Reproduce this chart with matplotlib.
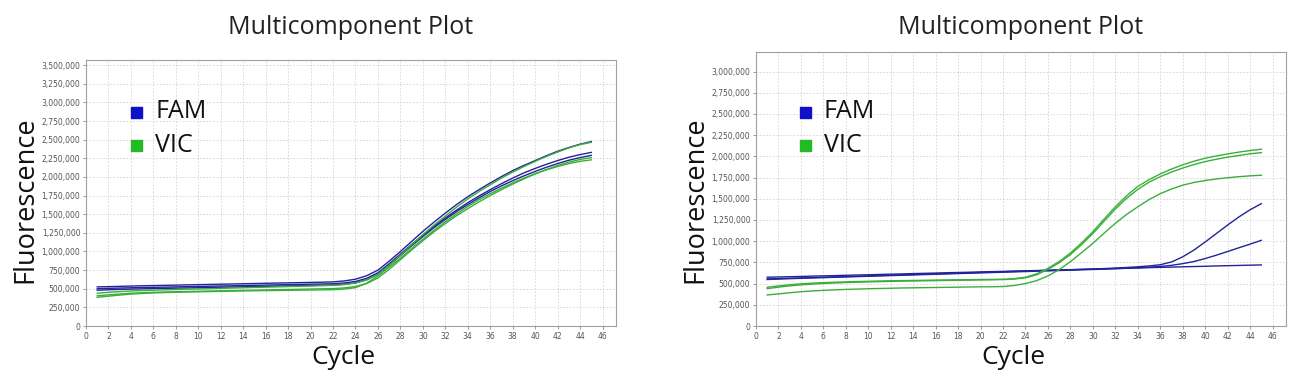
import numpy as np
import matplotlib.pyplot as plt
from matplotlib.ticker import FuncFormatter, MultipleLocator

# cycles 1..45
cycles = list(range(1, 46))

# left panel (values in thousands)
fam_left = [
    [525,528,532,536,540,543,546,549,552,555,558,561,564,567,570,573,576,579,582,585,588,592,605,628,675,750,870,1000,1135,1270,1395,1515,1630,1735,1830,1920,2005,2085,2155,2220,2285,2345,2395,2440,2475],
    [500,505,509,513,516,519,522,525,528,531,534,537,540,543,546,549,552,555,558,561,564,567,578,598,640,715,835,965,1095,1220,1340,1450,1555,1655,1745,1830,1910,1985,2055,2115,2170,2220,2265,2300,2330],
    [480,486,491,495,499,502,505,508,511,514,517,520,523,526,529,532,535,538,541,544,547,550,560,580,620,695,815,945,1075,1200,1320,1430,1535,1630,1720,1805,1880,1950,2015,2075,2130,2180,2225,2260,2290],
]
vic_left = [
    [440,452,462,470,476,481,485,489,493,497,501,505,509,513,517,521,525,529,533,537,541,545,556,576,618,695,815,950,1090,1225,1355,1475,1595,1705,1805,1895,1985,2065,2140,2210,2275,2335,2390,2435,2465],
    [405,418,430,440,447,452,456,460,463,466,469,472,475,478,481,484,487,490,493,496,499,502,511,530,570,645,760,890,1020,1145,1265,1375,1480,1575,1665,1750,1830,1905,1975,2040,2100,2155,2200,2235,2260],
    [385,400,415,428,437,444,449,453,456,459,462,465,468,471,473,475,477,479,481,483,485,487,496,515,575,672,790,910,1040,1165,1285,1400,1505,1605,1695,1775,1850,1920,1985,2045,2095,2140,2180,2210,2230],
]

# right panel (values in thousands)
fam_right = [
    [575,578,581,584,588,591,594,598,601,604,608,611,614,618,621,624,628,631,634,638,641,644,648,651,654,658,661,664,668,671,674,678,681,684,688,691,694,698,701,704,708,711,714,717,720],
    [548,553,558,562,566,570,574,578,582,586,590,594,598,602,606,610,614,618,622,626,630,634,638,642,646,650,654,658,662,666,670,675,680,686,693,702,715,735,760,795,835,878,922,965,1010],
    [555,559,563,567,571,575,579,583,587,591,595,599,603,607,611,615,619,623,627,631,635,639,643,647,651,655,659,663,667,672,677,683,690,698,708,722,755,815,895,990,1090,1190,1285,1370,1442],
]
vic_right = [
    [456,472,486,497,505,511,516,520,524,527,530,533,535,537,539,541,543,545,546,548,549,551,558,575,615,680,760,860,980,1112,1260,1405,1535,1645,1725,1792,1850,1900,1942,1978,2005,2028,2050,2068,2084],
    [440,458,473,485,494,501,507,512,516,520,523,526,529,531,533,535,537,539,541,543,545,547,553,568,603,668,745,842,960,1090,1235,1378,1505,1610,1695,1760,1815,1862,1903,1938,1966,1990,2010,2030,2044],
    [366,378,392,404,413,420,426,431,435,439,442,445,448,450,452,454,456,458,460,462,463,465,478,500,535,590,665,758,865,975,1095,1210,1315,1405,1490,1560,1615,1660,1692,1715,1733,1748,1760,1770,1777],
]

FAM_COL = '#23239a'
VIC_COL = '#3aae3a'
W, H = 1303, 384

plt.rcParams['font.family'] = ['Open Sans', 'DejaVu Sans']
fig = plt.figure(figsize=(W / 100, H / 100), dpi=100)


def px(x0, y_top, x1, y_bot):
    return [x0 / W, 1 - y_bot / H, (x1 - x0) / W, (y_bot - y_top) / H]


def panel(rect, fam, vic, ymax, title_y, ylab_x, leg_x):
    ax = fig.add_axes(px(*rect))
    for s in fam:
        ax.plot(cycles, np.array(s) * 1000, color=FAM_COL, lw=1.0)
    for s in vic:
        ax.plot(cycles, np.array(s) * 1000, color=VIC_COL, lw=1.0)
    ax.set_xlim(0, 47.2)
    ax.set_ylim(0, ymax)
    ax.xaxis.set_major_locator(MultipleLocator(2))
    ax.yaxis.set_major_locator(MultipleLocator(250000))
    ax.yaxis.set_major_formatter(FuncFormatter(lambda v, p: f'{int(v):,}'))
    ax.tick_params(labelsize=5.5, labelcolor='#555555', color='#888888',
                   length=2, width=0.6, pad=2)
    for lab in ax.get_xticklabels() + ax.get_yticklabels():
        lab.set_family('DejaVu Sans')
    ax.grid(True, color='#d4d4d4', lw=0.6, ls=(0, (2, 2)))
    for sp in ax.spines.values():
        sp.set_color('#a0a0a0')
        sp.set_linewidth(0.8)

    cx = (rect[0] + rect[2]) / 2
    fig.text(cx / W, 1 - title_y / H, 'Multicomponent Plot', fontsize=18,
             ha='center', va='center', color='#222222')
    fig.text(ylab_x / W, 1 - 200 / H, 'Fluorescence', fontsize=19.5,
             rotation=90, ha='center', va='center', color='#111111')
    fig.text((cx - 8) / W, 1 - 357 / H, 'Cycle', fontsize=19,
             ha='center', va='center', color='#111111')

    # legend
    for name, col, yy in [('FAM', '#1010c8', 112), ('VIC', '#22bb22', 145)]:
        fig.patches.append(plt.Rectangle((leg_x / W, 1 - (yy + 6) / H), 11 / W, 11 / H,
                                         transform=fig.transFigure, color=col))
        fig.text((leg_x + 24) / W, 1 - yy / H, name, fontsize=18,
                 ha='left', va='center', color='#111111')
    return ax


panel((86, 60, 616, 326), fam_left, vic_left, 3570000, 28, 25, 131)
panel((756, 52, 1286, 326), fam_right, vic_right, 3230000, 28, 695, 800)

fig.savefig('out.png', dpi=100)
